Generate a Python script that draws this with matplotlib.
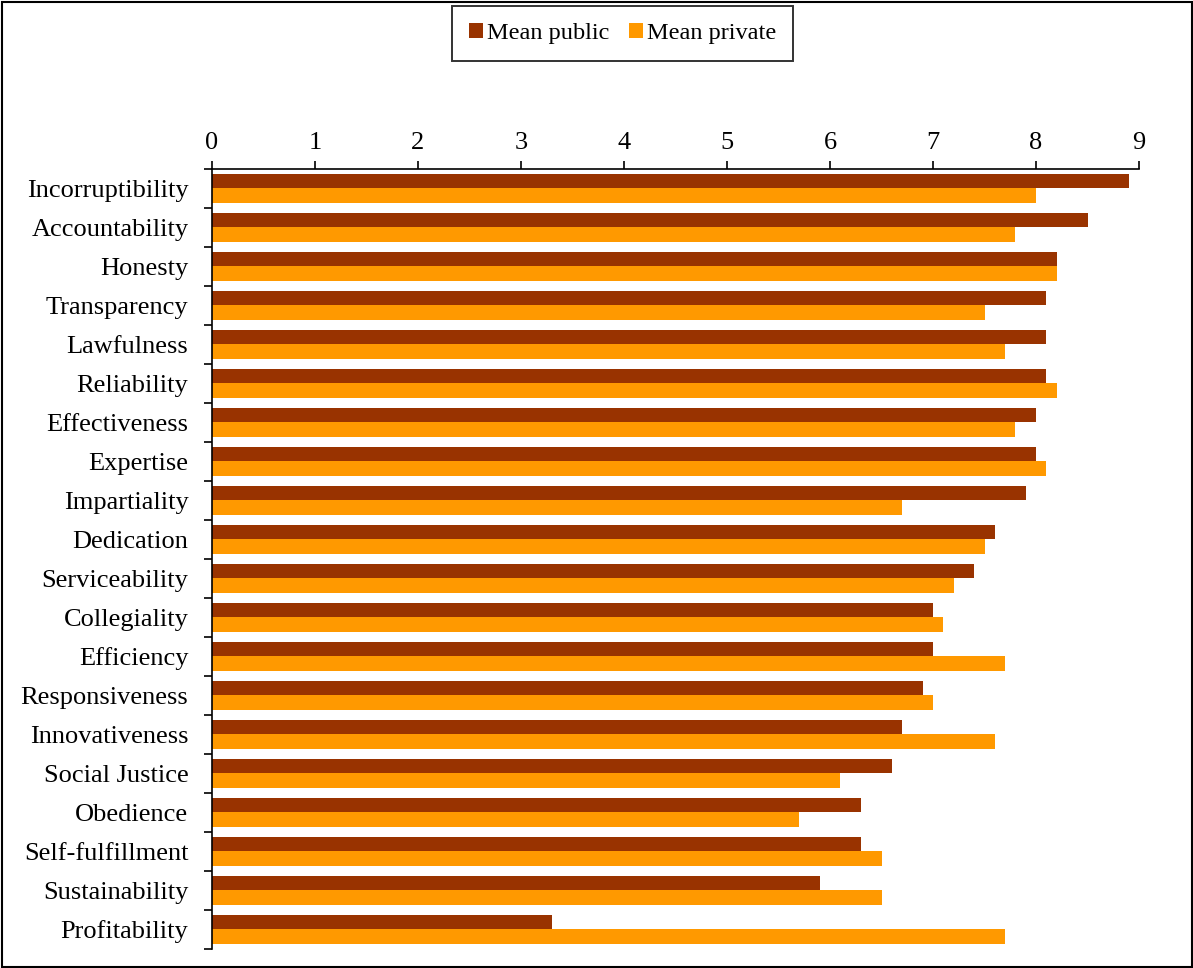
import matplotlib
matplotlib.use("Agg")
import matplotlib.pyplot as plt
import numpy as np
from matplotlib.patches import Rectangle, Patch

categories = ["Incorruptibility", "Accountability", "Honesty", "Transparency", "Lawfulness",
              "Reliability", "Effectiveness", "Expertise", "Impartiality", "Dedication",
              "Serviceability", "Collegiality", "Efficiency", "Responsiveness", "Innovativeness",
              "Social Justice", "Obedience", "Self-fulfillment", "Sustainability", "Profitability"]
mean_public = [8.9, 8.5, 8.2, 8.1, 8.1, 8.1, 8.0, 8.0, 7.9, 7.6,
               7.4, 7.0, 7.0, 6.9, 6.7, 6.6, 6.3, 6.3, 5.9, 3.3]
mean_private = [8.0, 7.8, 8.2, 7.5, 7.7, 8.2, 7.8, 8.1, 6.7, 7.5,
                7.2, 7.1, 7.7, 7.0, 7.6, 6.1, 5.7, 6.5, 6.5, 7.7]
x_ticks = list(range(0, 10))
series_names = ["Mean public", "Mean private"]

plt.rcParams['font.family'] = ['Liberation Serif', 'DejaVu Serif']
C_PUB = "#993300"
C_PRI = "#FF9900"

fig = plt.figure(figsize=(11.93, 9.68), dpi=100)
ax = fig.add_axes([212/1193, 1-949/968, (1139-212)/1193, (949-169)/968])

y = np.arange(len(categories))
h = 0.37
ax.barh(y - h/2, mean_public, height=h, color=C_PUB, label=series_names[0])
ax.barh(y + h/2, mean_private, height=h, color=C_PRI, label=series_names[1])

ax.set_ylim(len(categories) - 0.5, -0.5)
ax.set_xlim(0, 9)
ax.xaxis.tick_top()
ax.set_xticks(x_ticks)
ax.set_xticklabels([str(t) for t in x_ticks])
ax.tick_params(axis='x', direction='out', length=5.5, width=1.2, pad=5.5, labelsize=19, colors='black')
ax.set_yticks(y)
ax.set_yticklabels(categories)
ax.tick_params(axis='y', which='major', length=0, pad=17, labelsize=19)
ax.set_yticks(np.arange(len(categories) + 1) - 0.5, minor=True)
ax.tick_params(axis='y', which='minor', direction='out', length=5.5, width=1.2)

for s in ['right', 'bottom']:
    ax.spines[s].set_visible(False)
for s in ['top', 'left']:
    ax.spines[s].set_linewidth(1.2)
    ax.spines[s].set_color('black')

handles = [Patch(facecolor=C_PUB, edgecolor='none'), Patch(facecolor=C_PRI, edgecolor='none')]
leg = fig.legend(handles, series_names, loc='center', bbox_to_anchor=(622.5/1193, 1-33.5/968),
                 ncol=2, frameon=True, fancybox=False, fontsize=17.5,
                 handlelength=0.58, handleheight=0.58, handletextpad=0.17, columnspacing=0.8,
                 borderpad=0.7, borderaxespad=0)
leg.get_frame().set_edgecolor('black')
leg.get_frame().set_linewidth(1.4)

fig.patches.append(Rectangle((1.5/1193, 1.5/968), 1 - 3/1193, 1 - 3/968, transform=fig.transFigure,
                             fill=False, edgecolor='black', linewidth=1.5))

fig.savefig("out.png", dpi=100)
